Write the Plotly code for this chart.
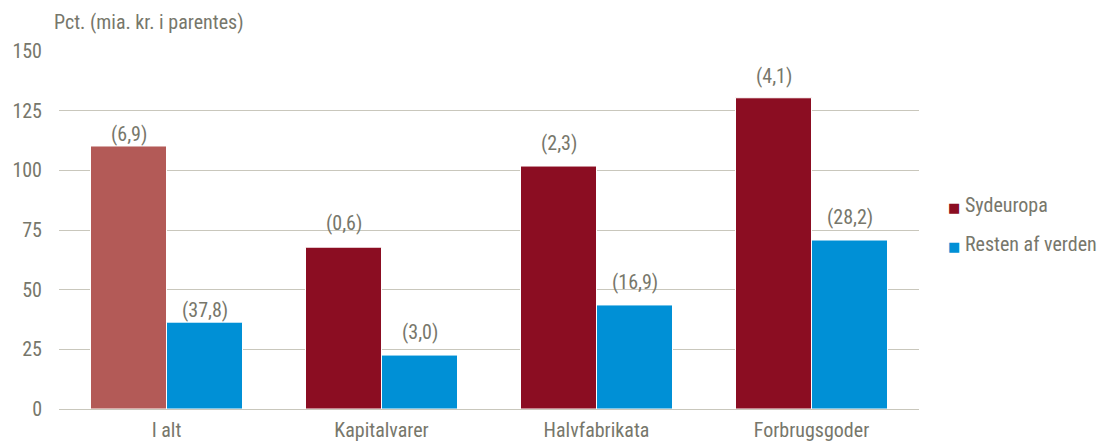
import plotly.graph_objects as go

categories = ["I alt", "Kapitalvarer", "Halvfabrikata", "Forbrugsgoder"]
sydeuropa = [110.2, 67.8, 101.8, 130.4]
resten = [36.4, 22.6, 43.6, 70.8]
sydeuropa_labels = ["(6,9)", "(0,6)", "(2,3)", "(4,1)"]
resten_labels = ["(37,8)", "(3,0)", "(16,9)", "(28,2)"]
series_names = ["Sydeuropa", "Resten af verden"]
label_gap = [12, 24, 23, 22]  # px gap between bar top and label centre
label_gap_r = [12, 23, 23, 23]
y_ticks = [0, 25, 50, 75, 100, 125, 150]

FONT = "Liberation Sans Narrow, Arial Narrow, Roboto Condensed, DejaVu Sans Condensed, sans-serif"
TXT = "#77776B"
GRID = "#C9C7BC"
RED = "#8B0D22"
RED_LIGHT = "#B35A57"
BLUE = "#0090D6"

fig = go.Figure()
fig.add_trace(go.Bar(
    x=categories, y=sydeuropa, name=series_names[0],
    marker=dict(color=[RED_LIGHT] + [RED] * (len(categories) - 1),
                line=dict(color="white", width=1)),
))
fig.add_trace(go.Bar(
    x=categories, y=resten, name=series_names[1],
    marker=dict(color=BLUE, line=dict(color="white", width=1)),
))

annotations = []
for i, c in enumerate(categories):
    annotations.append(dict(x=c, y=sydeuropa[i], xref="x", yref="y", text=sydeuropa_labels[i],
                            showarrow=False, xshift=-38, yshift=label_gap[i], yanchor="middle",
                            font=dict(family=FONT, size=20, color=TXT)))
    annotations.append(dict(x=c, y=resten[i], xref="x", yref="y", text=resten_labels[i],
                            showarrow=False, xshift=38, yshift=label_gap_r[i], yanchor="middle",
                            font=dict(family=FONT, size=20, color=TXT)))
annotations.append(dict(x=0, y=1, xref="paper", yref="paper", text="Pct. (mia. kr. i parentes)",
                        showarrow=False, xanchor="left", yanchor="middle", xshift=-7, yshift=29,
                        font=dict(family=FONT, size=20, color=TXT)))

# legend drawn as text entries (swatch + name) to the right of the plot
legend_colors = [RED, BLUE]
legend_y = [0.5698, 0.4609]
for name, col, ly in zip(series_names, legend_colors, legend_y):
    annotations.append(dict(
        x=1.0, y=ly, xref="paper", yref="paper", xanchor="left", yanchor="middle",
        xshift=27, showarrow=False,
        text=f'<span style="color:{col};font-size:13px;font-family:DejaVu Sans">■</span> {name}',
        font=dict(family=FONT, size=20, color=TXT),
    ))

fig.update_layout(
    width=1097, height=435,
    margin=dict(l=51, r=186, t=43, b=34, autoexpand=False),
    paper_bgcolor="white", plot_bgcolor="white",
    barmode="group", bargap=0.293, bargroupgap=0,
    font=dict(family=FONT, size=20, color=TXT),
    showlegend=False,
    annotations=annotations,
)
fig.update_xaxes(showgrid=False, showline=True, linecolor=GRID, linewidth=1,
                 ticks="", ticklabelstandoff=3, automargin=False,
                 tickfont=dict(family=FONT, size=20, color=TXT))
fig.update_yaxes(range=[0, 150], tickvals=y_ticks, showgrid=True, gridcolor=GRID, gridwidth=1,
                 zeroline=False, showline=False, ticks="", ticklabelstandoff=16, automargin=False,
                 tickfont=dict(family=FONT, size=20, color=TXT))

fig.write_html("out.html")
